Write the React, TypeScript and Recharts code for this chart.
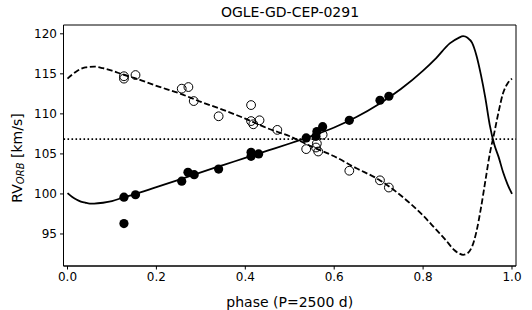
import React from "react";
import {
  ComposedChart,
  Line,
  Scatter,
  XAxis,
  YAxis,
  ReferenceLine,
  ReferenceArea,
} from "recharts";

// orbital RV curve of the primary (solid)
const solidPhase = [0, 0.01, 0.02, 0.03, 0.04, 0.05, 0.06, 0.08, 0.1, 0.125, 0.15, 0.2, 0.25, 0.3, 0.35, 0.4, 0.45, 0.5, 0.55, 0.6, 0.65, 0.7, 0.75, 0.8, 0.83, 0.86, 0.88, 0.89, 0.9, 0.91, 0.92, 0.93, 0.94, 0.95, 0.96, 0.97, 0.98, 0.99, 1.0];
const solidRV = [100.1, 99.65, 99.3, 99.05, 98.9, 98.8, 98.8, 98.9, 99.1, 99.55, 99.95, 100.85, 101.75, 102.7, 103.6, 104.5, 105.4, 106.3, 107.25, 108.3, 109.6, 111.2, 113.1, 115.4, 117.0, 118.8, 119.5, 119.7, 119.5, 118.9, 117.3, 114.9, 112.0, 108.6, 106.2, 104.6, 102.7, 101.2, 100.0];

// companion curve (dashed)
const dashedPhase = [0, 0.02, 0.04, 0.06, 0.08, 0.1, 0.125, 0.15, 0.2, 0.25, 0.3, 0.35, 0.4, 0.45, 0.5, 0.55, 0.6, 0.65, 0.7, 0.75, 0.8, 0.83, 0.85, 0.87, 0.88, 0.89, 0.9, 0.91, 0.92, 0.93, 0.94, 0.95, 0.96, 0.97, 0.98, 0.99, 1.0];
const dashedRV = [114.4, 115.3, 115.8, 115.9, 115.7, 115.4, 114.9, 114.5, 113.5, 112.6, 111.5, 110.5, 109.4, 108.2, 107.2, 105.9, 104.7, 103.2, 101.8, 99.8, 97.3, 95.5, 94.3, 93.0, 92.6, 92.4, 92.6, 93.4, 95.3, 98.2, 101.6, 105.0, 107.6, 110.3, 112.6, 113.8, 114.4];

// measured points
const filledPhase = [0.127, 0.127, 0.153, 0.257, 0.271, 0.285, 0.34, 0.413, 0.413, 0.43, 0.537, 0.561, 0.559, 0.574, 0.634, 0.703, 0.723];
const filledRV = [99.6, 96.3, 99.9, 101.6, 102.7, 102.4, 103.1, 105.2, 104.7, 105.0, 107.0, 107.8, 107.2, 108.4, 109.2, 111.7, 112.2];

const openPhase = [0.127, 0.127, 0.153, 0.257, 0.272, 0.284, 0.34, 0.413, 0.413, 0.418, 0.432, 0.472, 0.537, 0.561, 0.559, 0.564, 0.574, 0.634, 0.703, 0.723];
const openRV = [114.7, 114.4, 114.85, 113.15, 113.35, 111.6, 109.7, 111.1, 109.1, 108.7, 109.2, 108.0, 105.6, 106.3, 105.8, 105.3, 107.4, 102.9, 101.7, 100.8];

const gamma = 106.85;

const xTicks = [0, 0.2, 0.4, 0.6, 0.8, 1.0];
const yTicks = [95, 100, 105, 110, 115, 120];

const zip = (ps: number[], vs: number[]) => ps.map((p, i) => ({ p, v: vs[i] }));

const solidData = zip(solidPhase, solidRV);
const dashedData = zip(dashedPhase, dashedRV);
const filledData = zip(filledPhase, filledRV);
const openData = zip(openPhase, openRV);

const FONT = "DejaVu Sans, sans-serif";
const xDomain: [number, number] = [-0.009, 1.009];
const yDomain: [number, number] = [91.0, 121.1];

const FilledDot = (props: any) => (
  <circle cx={props.cx} cy={props.cy} r={4.6} fill="#000" />
);
const OpenDot = (props: any) => (
  <circle cx={props.cx} cy={props.cy} r={4.4} fill="none" stroke="#000" strokeWidth={1} />
);

const YLabel = () => (
  <text
    x={18}
    y={158}
    transform="rotate(-90 18 158)"
    textAnchor="middle"
    dominantBaseline="middle"
    fontSize={14}
    fontFamily={FONT}
    fill="#000"
  >
    RV
    <tspan fontSize={10} fontStyle="italic" dy={3}>ORB</tspan>
    <tspan dy={-3}> [km/s]</tspan>
  </text>
);

const App: React.FC = () => {
  return (
    <div style={{ position: "absolute", left: 0, top: 0, width: 532, height: 310, background: "#fff" }}>
      <div
        style={{
          position: "absolute",
          left: 0,
          width: 580,
          top: 3,
          textAlign: "center",
          fontFamily: FONT,
          fontSize: 14,
          color: "#000",
          lineHeight: "18px",
        }}
      >
        OGLE-GD-CEP-0291
      </div>
      <ComposedChart
        width={532}
        height={310}
        margin={{ top: 25, right: 16, left: 0, bottom: 0 }}
        style={{ fontFamily: FONT }}
      >
        <XAxis
          type="number"
          dataKey="p"
          domain={xDomain}
          allowDataOverflow
          ticks={xTicks}
          tickFormatter={(v: number) => v.toFixed(1)}
          height={44}
          tickSize={3.5}
          tickMargin={3}
          axisLine={{ stroke: "#000" }}
          tickLine={{ stroke: "#000" }}
          tick={{ fill: "#000", fontSize: 12 }}
          label={{ value: "phase (P=2500 d)", position: "insideBottom", offset: 3, fontSize: 14, fill: "#000" }}
        />
        <YAxis
          type="number"
          dataKey="v"
          domain={yDomain}
          allowDataOverflow
          ticks={yTicks}
          width={63.5}
          tickSize={3.5}
          tickMargin={3}
          axisLine={{ stroke: "#000" }}
          tickLine={{ stroke: "#000" }}
          tick={{ fill: "#000", fontSize: 12 }}
          label={{ content: <YLabel /> }}
        />
        <ReferenceArea
          x1={xDomain[0]}
          x2={xDomain[1]}
          y1={yDomain[0]}
          y2={yDomain[1]}
          fill="none"
          fillOpacity={0}
          stroke="#000"
          strokeWidth={1}
        />
        <ReferenceLine y={gamma} stroke="#000" strokeWidth={1.6} strokeDasharray="1.6 2.4" />
        <Line
          data={dashedData}
          dataKey="v"
          type="monotone"
          stroke="#000"
          strokeWidth={1.8}
          strokeDasharray="6 2.6"
          dot={false}
          isAnimationActive={false}
        />
        <Line
          data={solidData}
          dataKey="v"
          type="monotone"
          stroke="#000"
          strokeWidth={1.8}
          dot={false}
          isAnimationActive={false}
        />
        <Scatter data={openData} dataKey="v" shape={<OpenDot />} isAnimationActive={false} />
        <Scatter data={filledData} dataKey="v" shape={<FilledDot />} isAnimationActive={false} />
      </ComposedChart>
    </div>
  );
};

export default App;
